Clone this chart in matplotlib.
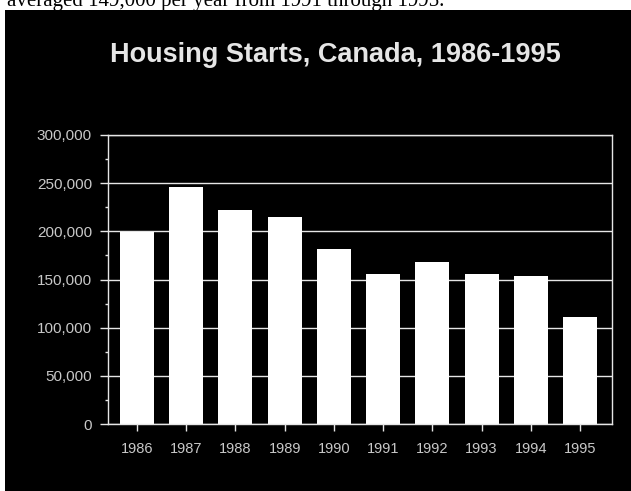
import matplotlib
matplotlib.use("Agg")
import matplotlib.pyplot as plt
from matplotlib.patches import Rectangle
from matplotlib.ticker import MultipleLocator, FuncFormatter

# Canadian housing starts, units per year
years = ["1986", "1987", "1988", "1989", "1990",
         "1991", "1992", "1993", "1994", "1995"]
starts = [199785, 245986, 222562, 215382, 181630,
          156197, 168271, 155443, 154057, 110933]

title = "Housing Starts, Canada, 1986-1995"
caption = "averaged 149,000 per year from 1991 through 1995."

W, H = 631, 491
fg = "#e6e6e6"
tick_col = "#c8c8c8"

fig = plt.figure(figsize=(W / 100, H / 100), dpi=100, facecolor="white")

# black slide panel under the text strip
fig.add_artist(Rectangle((5 / W, 0), 1, (H - 10) / H, transform=fig.transFigure,
                         facecolor="black", edgecolor="none", zorder=0))

fig.text(7 / W, 1 - 6 / H, caption, family="Liberation Serif", fontsize=15,
         color="black", va="baseline", ha="left")

fig.text(335 / W, 1 - 55 / H, title, family="Liberation Sans", fontsize=19.5,
         fontweight="bold", color=fg, ha="center", va="center")

ax = fig.add_axes([108 / W, (H - 424) / H, (612 - 108) / W, (424 - 135) / H])
ax.set_facecolor("black")

x = list(range(len(years)))
ax.bar(x, starts, width=0.69, color="white", edgecolor="none", zorder=3)

ax.set_xlim(-0.59, 9.65)
ax.set_ylim(0, 300000)
ax.yaxis.set_major_locator(MultipleLocator(50000))
ax.yaxis.set_minor_locator(MultipleLocator(25000))
ax.yaxis.set_major_formatter(FuncFormatter(lambda v, p: f"{int(v):,}"))
ax.set_xticks(x)
ax.set_xticklabels(years)

ax.grid(axis="y", which="major", color=fg, linewidth=1.0, zorder=1)
for s in ax.spines.values():
    s.set_color(fg)
    s.set_linewidth(1.0)
    s.set_zorder(4)

ax.tick_params(axis="y", which="major", direction="out", length=6, width=1.0,
               color=fg, labelcolor=tick_col, labelsize=11, pad=5.5)
ax.tick_params(axis="y", which="minor", direction="out", length=2.5, width=1.0,
               color=fg)
ax.tick_params(axis="x", direction="out", length=5, width=1.0, color=fg,
               labelcolor=tick_col, labelsize=10.5, pad=8)
for lab in ax.get_xticklabels() + ax.get_yticklabels():
    lab.set_family("Liberation Sans")

fig.savefig("out.png", dpi=100, facecolor="white")
